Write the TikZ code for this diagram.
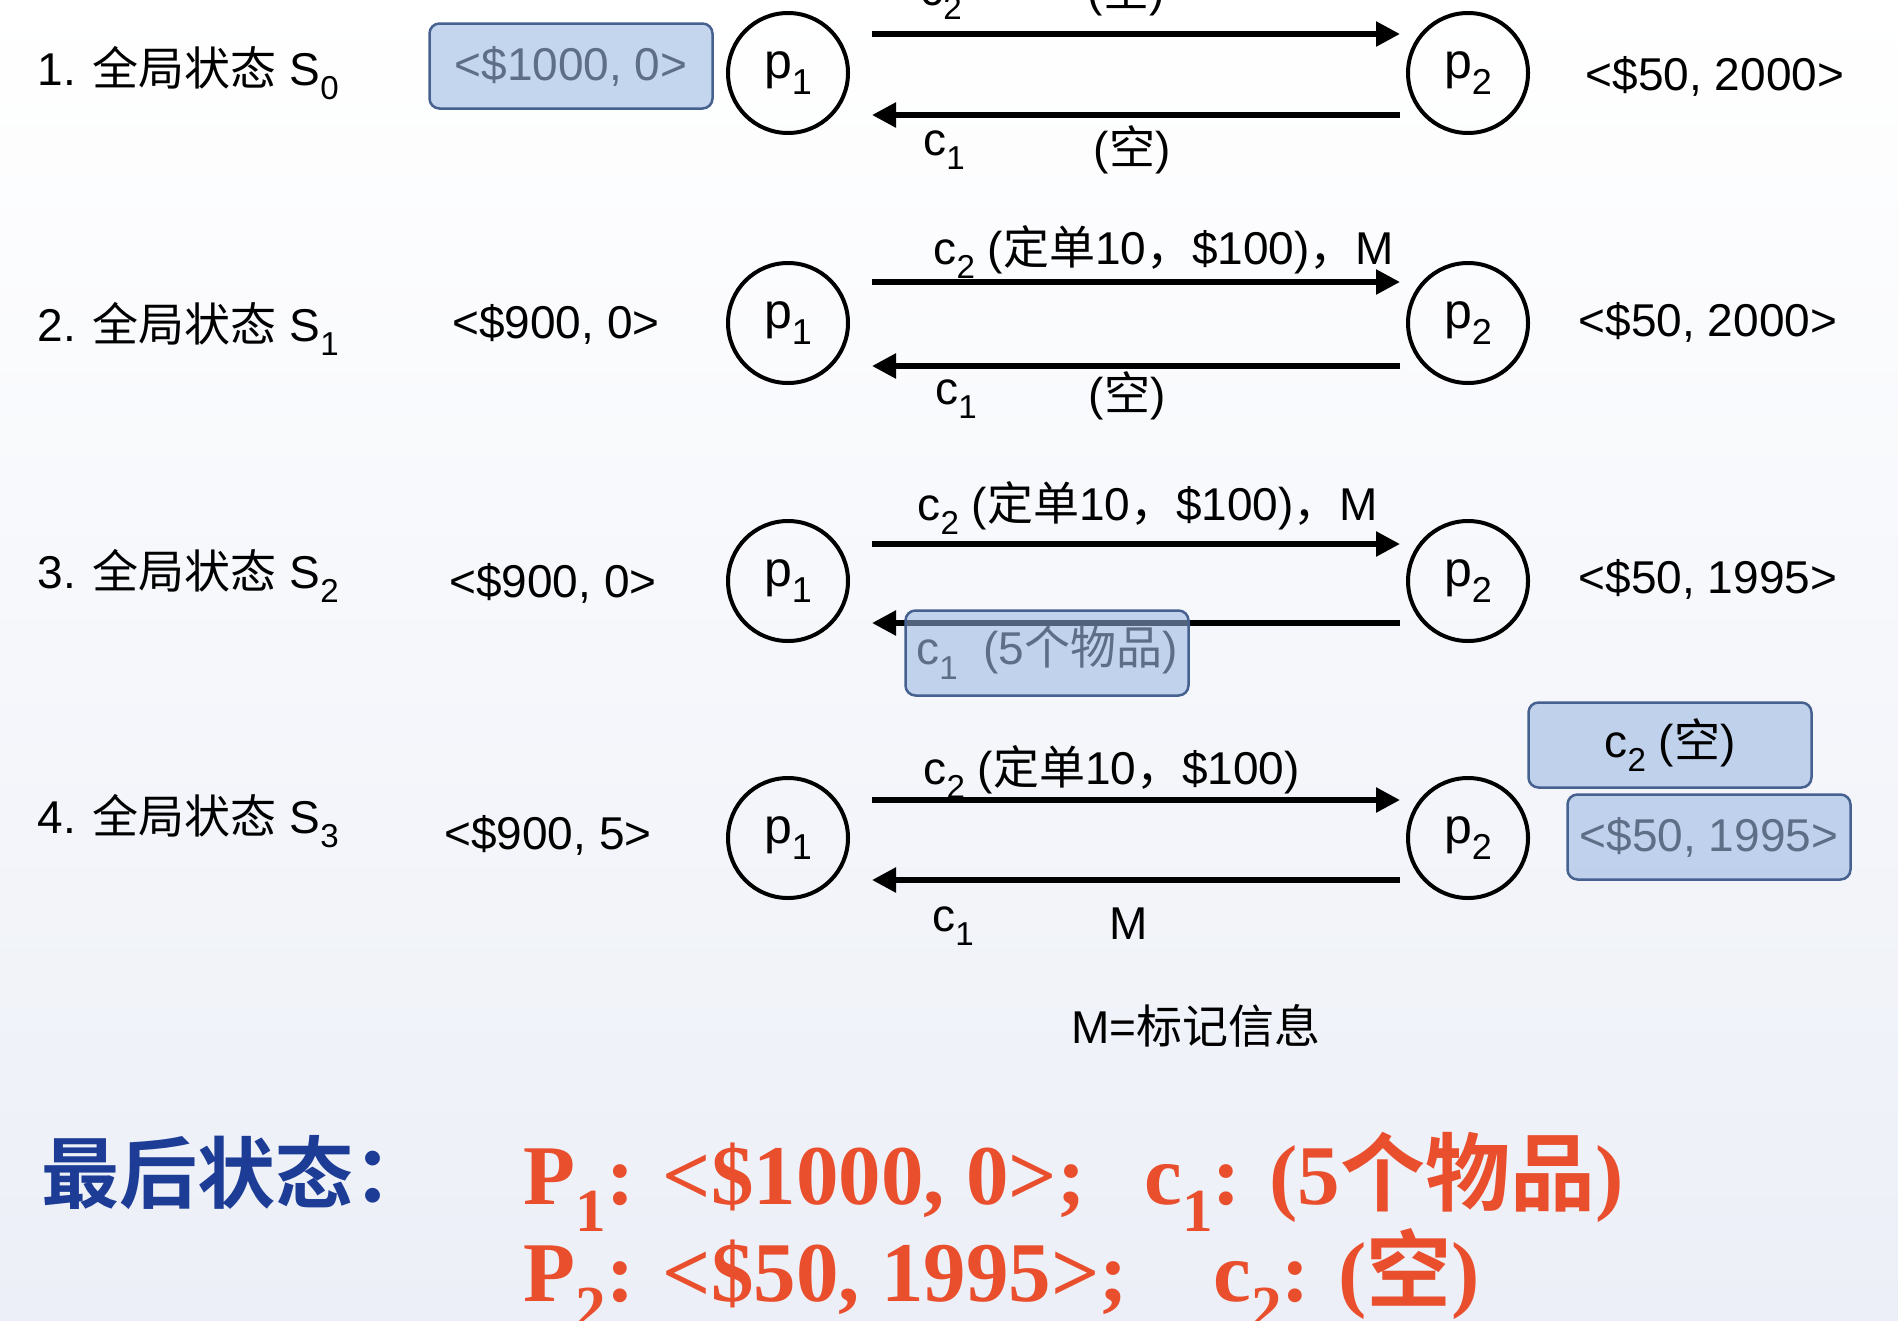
\documentclass[tikz,border=0pt]{standalone}
\usepackage{fontspec}
\usepackage{graphicx}
\setmainfont{Liberation Sans}
\newfontfamily\cjk[BoldFont={Noto Sans CJK SC Bold}]{Noto Sans CJK SC}
\newfontfamily\serifb{Liberation Serif}
\usetikzlibrary{arrows.meta}
\definecolor{hlfill}{RGB}{150,180,225}
\definecolor{hledge}{RGB}{70,97,143}
\definecolor{hltext}{RGB}{95,110,135}
\definecolor{bgtint}{RGB}{236,239,247}
\definecolor{titleblue}{RGB}{28,60,150}
\definecolor{finred}{RGB}{233,78,45}
\newcommand{\lo}[1]{\raisebox{-0.32em}{\scalebox{0.72}{#1}}}
\tikzset{
  every node/.style={font=\fontsize{46}{52}\selectfont},
  proc/.style={draw, circle, line width=4pt, minimum size=120pt, inner sep=0pt, font=\fontsize{50}{52}\selectfont},
  chan/.style={line width=5.5pt, -{Triangle[length=24pt,width=24pt]}},
  hlbox/.style={draw=hledge, line width=2.5pt, rounded corners=10pt, fill=hlfill, fill opacity=0.55,
    draw opacity=1, text opacity=1, minimum width=283pt, minimum height=85pt, inner sep=0pt},
  finbig/.style={anchor=base west, text=finred, font=\fontsize{85}{90}\selectfont\serifb\bfseries},
}
\begin{document}
\begin{tikzpicture}[x=1pt,y=-1pt]
    \path[use as bounding box, clip] (0,0) rectangle (1898,1320);
    \shade[top color=white, bottom color=bgtint] (0,0) rectangle (1898,1320);

    % global state S0
    \node[anchor=west] (s0) at (34,73) {1. {\cjk 全局状态} S\lo{0}};
    \node[proc] (p1a) at (788,73) {p\lo{1}};
    \node[proc] (p2a) at (1468,73) {p\lo{2}};
    \node[hlbox, text=hltext] (v1a) at (571,66) {<\$1000, 0>};
    \node (v2a) at (1715,76) {<\$50, 2000>};
    \coordinate (a1s) at (872,34);
    \coordinate (a1e) at (1400,34);
    \coordinate (b1s) at (1400,115);
    \coordinate (b1e) at (872,115);
    \draw[chan] (a1s) -- (a1e);
    \draw[chan] (b1s) -- (b1e);
    \node (c2a) at (941,0) {c\lo{2}};
    \node (m2a) at (1126,-8) {({\cjk 空})};
    \node (c1a) at (944,150) {c\lo{1}};
    \node (m1a) at (1132,150) {({\cjk 空})};

    % global state S1
    \node[anchor=west] (s1) at (34,329) {2. {\cjk 全局状态} S\lo{1}};
    \node[proc] (p1b) at (788,323) {p\lo{1}};
    \node[proc] (p2b) at (1468,323) {p\lo{2}};
    \node (v1b) at (556,324) {<\$900, 0>};
    \node (v2b) at (1708,322) {<\$50, 2000>};
    \coordinate (a2s) at (872,282);
    \coordinate (a2e) at (1400,282);
    \coordinate (b2s) at (1400,366);
    \coordinate (b2e) at (872,366);
    \draw[chan] (a2s) -- (a2e);
    \draw[chan] (b2s) -- (b2e);
    \node[anchor=west] (c2b) at (930,252) {c\lo{2} ({\cjk 定单}10{\cjk ，}\$100){\cjk ，}M};
    \node (c1b) at (956,399) {c\lo{1}};
    \node (m1b) at (1127,396) {({\cjk 空})};

    % global state S2
    \node[anchor=west] (s2) at (34,576) {3. {\cjk 全局状态} S\lo{2}};
    \node[proc] (p1c) at (788,581) {p\lo{1}};
    \node[proc] (p2c) at (1468,581) {p\lo{2}};
    \node (v1c) at (553,583) {<\$900, 0>};
    \node (v2c) at (1708,579) {<\$50, 1995>};
    \coordinate (a3s) at (872,544);
    \coordinate (a3e) at (1400,544);
    \coordinate (b3s) at (1400,623);
    \coordinate (b3e) at (872,623);
    \draw[chan] (a3s) -- (a3e);
    \draw[chan] (b3s) -- (b3e);
    \node[anchor=west] (c2c) at (914,508) {c\lo{2} ({\cjk 定单}10{\cjk ，}\$100){\cjk ，}M};
    \node[hlbox, text=hltext] (c1c) at (1047,653) {c\lo{1}\ \ (5{\cjk 个物品})};

    % global state S3
    \node[anchor=west] (s3) at (34,821) {4. {\cjk 全局状态} S\lo{3}};
    \node[proc] (p1d) at (788,838) {p\lo{1}};
    \node[proc] (p2d) at (1468,838) {p\lo{2}};
    \node (v1d) at (548,835) {<\$900, 5>};
    \node[hlbox] (c2box) at (1670,745) {c\lo{2} ({\cjk 空})};
    \node[hlbox, text=hltext] (v2d) at (1709,837) {<\$50, 1995>};
    \coordinate (a4s) at (872,800);
    \coordinate (a4e) at (1400,800);
    \coordinate (b4s) at (1400,880);
    \coordinate (b4e) at (872,880);
    \draw[chan] (a4s) -- (a4e);
    \draw[chan] (b4s) -- (b4e);
    \node[anchor=west] (c2d) at (920,772) {c\lo{2} ({\cjk 定单}10{\cjk ，}\$100)};
    \node (c1d) at (953,926) {c\lo{1}};
    \node (m1d) at (1129,924) {M};

    \node (key) at (1196,1026) {M={\cjk 标记信息}};

    % final state
    \node[anchor=base west, text=titleblue, font=\fontsize{78}{80}\selectfont\cjk\bfseries] (fin) at (38,1202) {最后状态：};
    \node[finbig] (fin1a) at (520,1204) {P\lo{1}: <\$1000, 0>;};
    \node[finbig] (fin1b) at (1141,1204) {c\lo{1}: (5{\cjk 个物品})};
    \node[finbig] (fin2a) at (520,1301) {P\lo{2}: <\$50, 1995>;};
    \node[finbig] (fin2b) at (1210,1301) {c\lo{2}: ({\cjk 空})};
\end{tikzpicture}
\end{document}
